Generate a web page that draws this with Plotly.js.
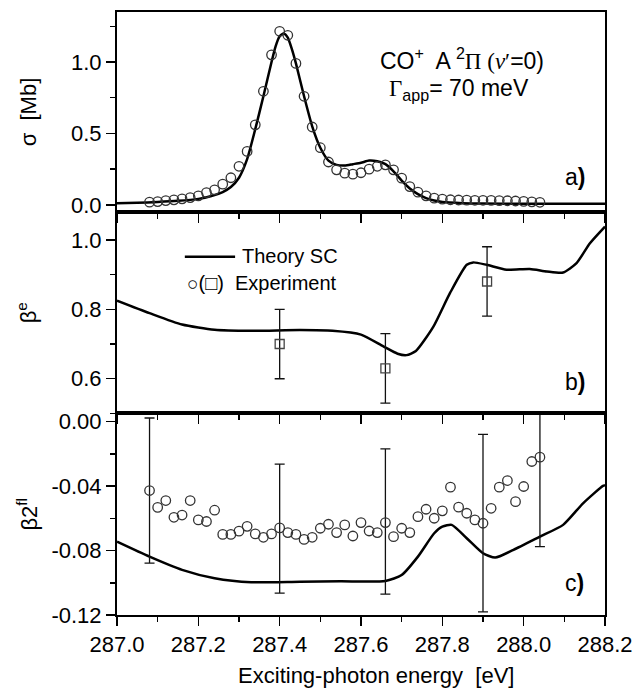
<!DOCTYPE html>
<html>
<head>
<meta charset="utf-8">
<script src="https://cdn.plot.ly/plotly-3.0.1.min.js"></script>
<style>html,body{margin:0;padding:0;background:#fff;}</style>
</head>
<body>
<div id="chart" style="width:635px;height:688px;"></div>
<script>
// ---- Data ----
const expEnergy = [287.08,287.10,287.12,287.14,287.16,287.18,287.20,287.22,287.24,287.26,287.28,287.30,287.32,287.34,287.36,287.38,287.40,287.42,287.44,287.46,287.48,287.50,287.52,287.54,287.56,287.58,287.60,287.62,287.64,287.66,287.68,287.70,287.72,287.74,287.76,287.78,287.80,287.82,287.84,287.86,287.88,287.90,287.92,287.94,287.96,287.98,288.00,288.02,288.04];

const sigmaExp = [0.019,0.023,0.030,0.035,0.042,0.051,0.063,0.086,0.105,0.145,0.19,0.27,0.374,0.56,0.795,1.05,1.215,1.187,0.99,0.76,0.545,0.40,0.30,0.245,0.222,0.215,0.225,0.25,0.27,0.28,0.245,0.187,0.128,0.089,0.063,0.047,0.040,0.036,0.034,0.033,0.032,0.032,0.031,0.030,0.029,0.027,0.024,0.021,0.018];

const sigmaTheoryE = [287.00,287.05,287.10,287.15,287.20,287.23,287.26,287.28,287.30,287.32,287.34,287.36,287.38,287.39,287.40,287.41,287.42,287.43,287.44,287.46,287.48,287.50,287.52,287.54,287.56,287.58,287.60,287.62,287.64,287.66,287.68,287.70,287.72,287.74,287.76,287.78,287.80,287.85,287.90,288.00,288.10,288.20];
const sigmaTheory = [0.012,0.015,0.020,0.028,0.042,0.060,0.090,0.125,0.19,0.32,0.53,0.76,1.00,1.11,1.18,1.20,1.17,1.09,0.99,0.76,0.55,0.40,0.31,0.28,0.275,0.285,0.295,0.31,0.305,0.285,0.235,0.17,0.115,0.075,0.047,0.030,0.020,0.012,0.009,0.008,0.007,0.007];

const betaETheoryE = [287.00,287.08,287.16,287.24,287.33,287.45,287.53,287.60,287.655,287.69,287.712,287.735,287.778,287.819,287.86,287.876,287.909,287.958,288.015,288.057,288.097,288.13,288.163,288.20];
const betaETheory = [0.825,0.789,0.756,0.741,0.738,0.740,0.738,0.727,0.693,0.672,0.668,0.680,0.750,0.847,0.928,0.935,0.928,0.914,0.916,0.909,0.906,0.933,0.990,1.038];

const betaEExpE = [287.40,287.66,287.91];
const betaEExp = [0.70,0.63,0.88];
const betaEErr = [0.10,0.10,0.10];

const beta2TheoryE = [287.00,287.08,287.16,287.24,287.33,287.45,287.55,287.66,287.70,287.74,287.78,287.80,287.823,287.86,287.90,287.93,287.975,288.04,288.097,288.146,288.195,288.20];
const beta2Theory = [-0.0745,-0.0838,-0.0920,-0.0972,-0.0997,-0.0993,-0.0991,-0.0989,-0.0952,-0.0838,-0.0693,-0.0652,-0.0641,-0.0724,-0.0817,-0.0844,-0.0796,-0.0714,-0.0641,-0.0507,-0.0399,-0.0395];

const beta2Exp = [-0.0428,-0.0532,-0.049,-0.0594,-0.058,-0.049,-0.061,-0.062,-0.055,-0.070,-0.070,-0.068,-0.065,-0.0697,-0.0718,-0.0697,-0.066,-0.0689,-0.070,-0.0731,-0.0718,-0.0662,-0.0637,-0.0689,-0.0641,-0.071,-0.0627,-0.0679,-0.0689,-0.0627,-0.0714,-0.0662,-0.0689,-0.059,-0.0544,-0.060,-0.0554,-0.0407,-0.0531,-0.0569,-0.061,-0.0631,-0.0538,-0.0407,-0.0366,-0.0497,-0.0403,-0.0248,-0.0221];

const beta2ErrE = [287.08,287.40,287.66,287.90,288.04];
const beta2ErrY = [-0.0428,-0.0664,-0.062,-0.063,-0.0221];
const beta2Err = [0.045,0.040,0.045,0.055,0.0555];

const xTickVals = [287.0,287.2,287.4,287.6,287.8,288.0,288.2];
const xTickText = ['287.0','287.2','287.4','287.6','287.8','288.0','288.2'];
const yaTickVals = [0,0.5,1.0];
const yaTickText = ['0.0','0.5','1.0'];
const ybTickVals = [0.6,0.8,1.0];
const ybTickText = ['0.6','0.8','1.0'];
const ycTickVals = [-0.12,-0.08,-0.04,0];
const ycTickText = ['-0.12','-0.08','-0.04','0.00'];

// ---- Styles ----
const FONT = 'Liberation Sans, Arial, sans-serif';
const lineStyle = {color:'#000', width:2.5, shape:'spline', smoothing:0.6};
const circ = {symbol:'circle-open', size:9.5, color:'#333', line:{color:'#333', width:1.3}};

const traces = [
  {x: sigmaTheoryE, y: sigmaTheory, xaxis:'x3', yaxis:'y3', mode:'lines', line: lineStyle, name:'Theory SC'},
  {x: expEnergy, y: sigmaExp, xaxis:'x3', yaxis:'y3', mode:'markers', marker: circ, name:'Experiment'},
  {x: betaETheoryE, y: betaETheory, xaxis:'x2', yaxis:'y2', mode:'lines', line: lineStyle, name:'Theory SC'},
  {x: betaEExpE, y: betaEExp, xaxis:'x2', yaxis:'y2', mode:'markers',
   marker:{symbol:'square-open', size:9, color:'#444', line:{color:'#444', width:1.3}},
   error_y:{type:'data', array: betaEErr, visible:true, color:'#111', thickness:1.3, width:5}, name:'Experiment'},
  {x: beta2TheoryE, y: beta2Theory, xaxis:'x', yaxis:'y', mode:'lines', line: lineStyle, name:'Theory SC'},
  {x: beta2ErrE, y: beta2ErrY, xaxis:'x', yaxis:'y', mode:'markers', marker:{size:1, color:'rgba(0,0,0,0)'},
   error_y:{type:'data', array: beta2Err, visible:true, color:'#111', thickness:1.3, width:5}, name:'error'},
  {x: expEnergy, y: beta2Exp, xaxis:'x', yaxis:'y', mode:'markers', marker: circ, name:'Experiment'}
];

const tickFont = {family: FONT, size: 22, color:'#000'};
function xAx(anchor, showLabels, extra) {
  return Object.assign({
    anchor: anchor, domain:[0,1], range:[287.0, 288.2],
    tickmode:'array', tickvals: xTickVals, ticktext: xTickText,
    showticklabels: showLabels, ticks:'outside', ticklen:9, tickwidth:1.5, tickcolor:'#000',
    minor:{tickmode:'linear', tick0:287.0, dtick:0.1, ticks:'outside', ticklen:5, tickwidth:1.5, tickcolor:'#000'},
    showline:true, linewidth:2, linecolor:'#000', mirror:true,
    showgrid:false, zeroline:false, tickfont: tickFont
  }, extra || {});
}
function yAx(anchor, domain, range, vals, text, minorDtick, title, standoff) {
  return {
    anchor: anchor, domain: domain, range: range,
    tickmode:'array', tickvals: vals, ticktext: text,
    ticks:'outside', ticklen:9, tickwidth:1.5, tickcolor:'#000',
    minor:{tickmode:'linear', tick0:0, dtick:minorDtick, ticks:'outside', ticklen:5, tickwidth:1.5, tickcolor:'#000'},
    showline:true, linewidth:2, linecolor:'#000', mirror:true,
    showgrid:false, zeroline:false, tickfont: tickFont,
    title:{text: title, font:{family: FONT, size:22, color:'#000'}, standoff: standoff}
  };
}

const layout = {
  width:635, height:688,
  margin:{l:117, r:30, t:12, b:73, pad:0},
  paper_bgcolor:'#fff', plot_bgcolor:'rgba(0,0,0,0)',
  showlegend:false,
  font:{family: FONT, size:20, color:'#000'},
  xaxis: xAx('y', true, {title:{text:'&nbsp;&nbsp;&nbsp;&nbsp;&nbsp;Exciting-photon energy&nbsp; [eV]', font:{family: FONT, size:22, color:'#000'}, standoff:12}}),
  xaxis2: xAx('y2', false, {matches:'x'}),
  xaxis3: xAx('y3', false, {matches:'x'}),
  yaxis: yAx('x', [0, 0.3342], [-0.12, 0.005], ycTickVals, ycTickText, 0.02, 'β2<sup>fl</sup>', 8),
  yaxis2: yAx('x2', [0.3342, 0.6683], [0.5, 1.08], ybTickVals, ybTickText, 0.1, 'β<sup>e</sup>', 28),
  yaxis3: yAx('x3', [0.6683, 1], [-0.05, 1.35], yaTickVals, yaTickText, 0.25, 'σ&nbsp; [Mb]', 28),
  shapes:[
    {type:'line', xref:'paper', yref:'paper', x0:0.139, x1:0.242, y0:0.594, y1:0.594, line:{color:'#000', width:2.5}}
  ],
  annotations:[
    {xref:'paper', yref:'paper', x:0.706, y:0.922, xanchor:'center', yanchor:'middle', showarrow:false,
     font:{family: FONT, size:23, color:'#000'},
     text:'CO<sup>+</sup>&nbsp; A <sup>2</sup><span style="font-family:Liberation Serif">Π (<i>v</i>′</span>=0)'},
    {xref:'paper', yref:'paper', x:0.700, y:0.872, xanchor:'center', yanchor:'middle', showarrow:false,
     font:{family: FONT, size:23, color:'#000'},
     text:'<span style="font-family:Liberation Serif">Γ</span><sub>app</sub>= 70 meV'},
    {xref:'paper', yref:'paper', x:0.252, y:0.5954, xanchor:'left', yanchor:'middle', showarrow:false,
     font:{family: FONT, size:20, color:'#000'}, text:'Theory SC'},
    {xref:'paper', yref:'paper', x:0.140, y:0.551, xanchor:'left', yanchor:'middle', showarrow:false,
     font:{family: FONT, size:20, color:'#000'}, text:'<span style="font-size:19px">○</span>(□)&nbsp; Experiment'},
    {xref:'paper', yref:'paper', x:0.9385, y:0.7264, xanchor:'center', yanchor:'middle', showarrow:false,
     font:{family: FONT, size:23, color:'#000'}, text:'a<b>)</b>'},
    {xref:'paper', yref:'paper', x:0.9385, y:0.3864, xanchor:'center', yanchor:'middle', showarrow:false,
     font:{family: FONT, size:23, color:'#000'}, text:'b<b>)</b>'},
    {xref:'paper', yref:'paper', x:0.9385, y:0.0531, xanchor:'center', yanchor:'middle', showarrow:false,
     font:{family: FONT, size:23, color:'#000'}, text:'c<b>)</b>'}
  ]
};

Plotly.newPlot('chart', traces, layout, {displayModeBar:false, staticPlot:true});
</script>
</body>
</html>
